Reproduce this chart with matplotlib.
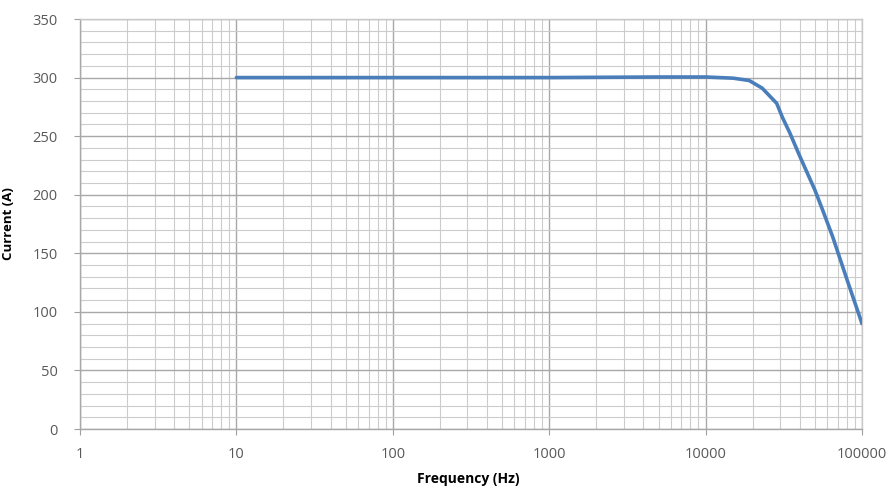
import numpy as np
import matplotlib
matplotlib.use('Agg')
import matplotlib.pyplot as plt
from matplotlib.ticker import FixedLocator, FixedFormatter, MultipleLocator, NullFormatter

# values
freq = [10, 100, 1000, 5000, 10000, 15000, 19000, 23000, 28500, 31000, 34500, 40000, 50000, 56000, 65000, 80000, 90000, 100000]
current = [300, 300, 300, 300.5, 300.5, 299.5, 297.5, 291, 278, 266, 253, 233, 204, 187, 164, 128, 108, 90]

x_ticks = [1, 10, 100, 1000, 10000, 100000]
x_ticklabels = ['1', '10', '100', '1000', '10000', '100000']

plt.rcParams['font.family'] = ['Open Sans', 'DejaVu Sans']

fig = plt.figure(figsize=(8.95, 4.95), dpi=100)
ax = fig.add_axes([0.0894, 0.1333, 0.8737, 0.8283])

ax.set_xscale('log')
ax.set_xlim(1, 100000)
ax.set_ylim(0, 350)

ax.xaxis.set_major_locator(FixedLocator(x_ticks))
ax.xaxis.set_major_formatter(FixedFormatter(x_ticklabels))
minor_x = [m * 10**d for d in range(5) for m in range(2, 10)]
ax.xaxis.set_minor_locator(FixedLocator(minor_x))
ax.xaxis.set_minor_formatter(NullFormatter())
ax.yaxis.set_major_locator(MultipleLocator(50))
ax.yaxis.set_minor_locator(MultipleLocator(10))

ax.grid(which='major', color='#a8a8a8', lw=1.0)
ax.grid(which='minor', color='#cccccc', lw=0.8)
ax.set_axisbelow(True)

ax.plot(freq, current, color='#4a7ebb', lw=2.6, solid_capstyle='round', solid_joinstyle='round', zorder=3)

for s in ax.spines.values():
	s.set_color('#a8a8a8')
	s.set_linewidth(1.0)
ax.spines['top'].set_color('#c8c8c8')
ax.spines['right'].set_color('#c8c8c8')

ax.tick_params(which='major', direction='out', length=4, color='#a0a0a0', labelsize=10.5, labelcolor='#595959')
ax.tick_params(axis='y', pad=12)
ax.tick_params(axis='x', pad=9)
ax.tick_params(which='minor', length=0)

ax.set_xlabel('Frequency (Hz)', fontsize=10, fontweight='bold')
ax.set_ylabel('Current (A)', fontsize=9.5, fontweight='bold')
ax.xaxis.set_label_coords(0.496, -0.105)
ax.yaxis.set_label_coords(-0.083, 0.5)

fig.savefig('out.png', dpi=100)
